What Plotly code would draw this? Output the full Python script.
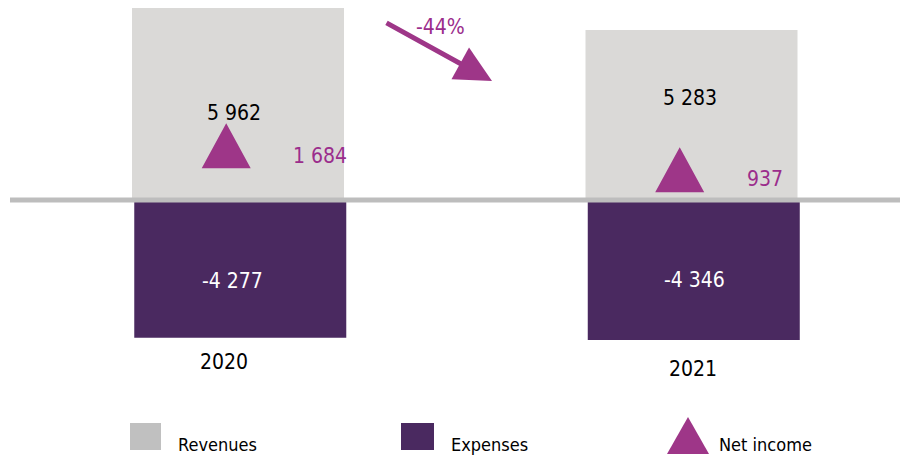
import plotly.graph_objects as go

# ---- data ----
years = ["2020", "2021"]
revenues = [5962, 5283]
expenses = [-4277, -4346]
net_income = [1684, 937]
revenue_labels = ["5 962", "5 283"]
expense_labels = ["-4 277", "-4 346"]
net_labels = ["1 684", "937"]
change_label = "-44%"
legend_names = ["Revenues", "Expenses", "Net income"]

# ---- styles ----
OFF = 8                 # page body margin offset
W, H = 908 - OFF, 462 - OFF
C_REV = "#dad9d7"
C_EXP = "#4a2960"
C_NET = "#9e3688"
C_NET_TXT = "#9b2d8c"
C_ZERO = "#bdbdbd"
C_LEG_REV = "#c0c0c0"
FONT = "Liberation Sans Narrow, DejaVu Sans Condensed, Arial Narrow, sans-serif"
NUM_SIZE = 21
LEG_SIZE = 18
TRI_HALF_W_PX = 24.5
TRI_HALF_H_PX = 22.5

xpos = list(range(len(years)))
# axis geometry (reference-pixel mapping)
x_center0, x_step = 238.0, 453.5
y_zero_px, y_scale = 200.0, 0.0322  # px per unit


def paper_x(p):
    return (p - OFF) / W


def paper_y(p):
    return 1 - (p - OFF) / H


x_range = [(OFF - x_center0) / x_step, (OFF + W - x_center0) / x_step]
y_range = [(y_zero_px - (OFF + H)) / y_scale, (y_zero_px - OFF) / y_scale]

fig = go.Figure()
fig.add_trace(go.Bar(x=xpos, y=revenues, width=0.4675, marker=dict(color=C_REV, line=dict(width=0)),
                     name=legend_names[0], showlegend=False, hoverinfo="skip"))
fig.add_trace(go.Bar(x=[p + 0.005 for p in xpos], y=expenses, width=0.4675, marker=dict(color=C_EXP, line=dict(width=0)),
                     name=legend_names[1], showlegend=False, hoverinfo="skip"))

# net income triangles, centred on each value
hw = TRI_HALF_W_PX / x_step
hh = TRI_HALF_H_PX / y_scale
tx, ty = [], []
for p, v in zip(xpos, net_income):
    c = p - 0.026
    tx += [c - hw, c + hw, c, c - hw, None]
    ty += [v - hh, v - hh, v + hh, v - hh, None]
fig.add_trace(go.Scatter(x=tx, y=ty, mode="lines", fill="toself", fillcolor=C_NET,
                         line=dict(width=0, color=C_NET),
                         name=legend_names[2], showlegend=False, hoverinfo="skip"))

shapes = [
    dict(type="line", xref="paper", yref="y", x0=paper_x(10), x1=1, y0=0, y1=0,
         line=dict(color=C_ZERO, width=5), layer="above"),
    # legend glyphs
    dict(type="rect", xref="paper", yref="paper", x0=paper_x(130), x1=paper_x(161), y0=paper_y(450), y1=paper_y(423),
         fillcolor=C_LEG_REV, line=dict(width=0)),
    dict(type="rect", xref="paper", yref="paper", x0=paper_x(401), x1=paper_x(434), y0=paper_y(450), y1=paper_y(423),
         fillcolor=C_EXP, line=dict(width=0)),
    dict(type="path", xref="paper", yref="paper",
         path=f"M {paper_x(667)} {paper_y(454)} L {paper_x(709)} {paper_y(454)} L {paper_x(688)} {paper_y(417)} Z",
         fillcolor=C_NET, line=dict(width=0)),
]

ann = []


def label(text, px, py, color="black", size=NUM_SIZE, xanchor="center"):
    ann.append(dict(text=text, x=paper_x(px), y=paper_y(py), xref="paper", yref="paper",
                    showarrow=False, xanchor=xanchor, yanchor="middle",
                    font=dict(family=FONT, size=size, color=color)))


rev_lbl_pos = [(234, 113), (690, 98)]
exp_lbl_pos = [(232, 281), (694, 280)]
net_lbl_pos = [(320, 156), (765, 179)]
year_lbl_pos = [(224, 362), (693, 369)]
for i in range(len(years)):
    label(revenue_labels[i], *rev_lbl_pos[i])
    label(expense_labels[i], *exp_lbl_pos[i], color="white")
    label(net_labels[i], *net_lbl_pos[i], color=C_NET_TXT)
    label(years[i], *year_lbl_pos[i])

label(change_label, 440, 27, color=C_NET_TXT)

# arrow
ann.append(dict(text="", x=paper_x(492), y=paper_y(81), xref="paper", yref="paper",
                ax=385 - 492, ay=22 - 81, axref="pixel", ayref="pixel", showarrow=True,
                arrowhead=2, arrowsize=1.45, arrowwidth=5, arrowcolor=C_NET))

# legend text
label(legend_names[0], 176, 444, size=LEG_SIZE, xanchor="left")
label(legend_names[1], 449, 444, size=LEG_SIZE, xanchor="left")
label(legend_names[2], 717, 444, size=LEG_SIZE, xanchor="left")

fig.update_layout(
    width=W, height=H, margin=dict(l=0, r=0, t=0, b=0),
    paper_bgcolor="white", plot_bgcolor="white",
    barmode="overlay", showlegend=False,
    xaxis=dict(range=x_range, visible=False, fixedrange=True),
    yaxis=dict(range=y_range, visible=False, fixedrange=True),
    shapes=shapes, annotations=ann,
    font=dict(family=FONT),
)

fig.write_html("out.html", config={"displayModeBar": False})
